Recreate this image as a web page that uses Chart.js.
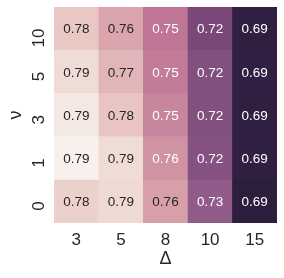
<!DOCTYPE html>
<html>
<head>
<meta charset="utf-8">
<script src="https://cdn.jsdelivr.net/npm/chart.js@4"></script>
<style>
  html, body { margin: 0; padding: 0; background: #ffffff; }
</style>
</head>
<body>
<canvas id="heat" width="284" height="278"></canvas>
<script>
// categories
const deltaLabels = ['3', '5', '8', '10', '15'];
const nuLabels = ['0', '1', '3', '5', '10']; // bottom to top

// one row of values per nu (columns follow deltaLabels)
const nu0 = [0.784, 0.787, 0.761, 0.727, 0.689];
const nu1 = [0.793, 0.788, 0.757, 0.722, 0.690];
const nu3 = [0.791, 0.780, 0.753, 0.721, 0.690];
const nu5 = [0.788, 0.772, 0.750, 0.721, 0.690];
const nu10 = [0.781, 0.763, 0.748, 0.718, 0.690];
const rows = [nu0, nu1, nu3, nu5, nu10];

const vmin = 0.689, vmax = 0.793;
const FONT = "'Liberation Sans', Arial, sans-serif";
const DARK = '#262626';

// cubehelix-like colormap, dark purple -> light pink
const stops = [
  [0.00, [45, 30, 62]],
  [0.14, [83, 47, 92]],
  [0.279, [122, 72, 120]],
  [0.346, [141, 90, 136]],
  [0.567, [190, 117, 150]],
  [0.702, [217, 163, 171]],
  [0.875, [232, 197, 194]],
  [0.952, [240, 220, 214]],
  [1.00, [247, 240, 236]]
];

function cellRGB(v) {
  let t = (v - vmin) / (vmax - vmin);
  t = Math.max(0, Math.min(1, t));
  for (let i = 1; i < stops.length; i++) {
    if (t <= stops[i][0]) {
      const a = stops[i - 1], b = stops[i];
      const f = (t - a[0]) / (b[0] - a[0]);
      return a[1].map((c, k) => Math.round(c + (b[1][k] - c) * f));
    }
  }
  return stops[stops.length - 1][1];
}

function cellColor(v) {
  const c = cellRGB(v);
  return 'rgb(' + c.join(',') + ')';
}

function luminance(rgb) {
  const lin = rgb.map(c => {
    c = c / 255;
    return c <= 0.03928 ? c / 12.92 : Math.pow((c + 0.055) / 1.055, 2.4);
  });
  return 0.2126 * lin[0] + 0.7152 * lin[1] + 0.0722 * lin[2];
}

// writes the value in each cell
const annotate = {
  id: 'annotate',
  afterDatasetsDraw(chart) {
    const ctx = chart.ctx;
    ctx.save();
    ctx.font = '13.5px ' + FONT;
    ctx.textAlign = 'center';
    ctx.textBaseline = 'middle';
    chart.data.datasets.forEach((ds, i) => {
      const meta = chart.getDatasetMeta(i);
      meta.data.forEach((bar, j) => {
        const v = ds.values[j];
        ctx.fillStyle = luminance(cellRGB(v)) < 0.408 ? '#ffffff' : DARK;
        ctx.fillText(v.toFixed(2), bar.x, (bar.y + bar.base) / 2 + 1);
      });
    });
    ctx.restore();
  }
};

new Chart(document.getElementById('heat'), {
  type: 'bar',
  data: {
    labels: deltaLabels,
    datasets: rows.map((vals, i) => ({
      label: 'ν = ' + nuLabels[i],
      data: vals.map(() => 1),
      values: vals,
      backgroundColor: vals.map(cellColor),
      borderColor: vals.map(cellColor),
      borderWidth: 0.6,
      borderSkipped: false,
      barPercentage: 1,
      categoryPercentage: 1
    }))
  },
  options: {
    responsive: false,
    animation: false,
    devicePixelRatio: 1,
    layout: { padding: { left: 0, top: 7, right: 7, bottom: 0 } },
    plugins: {
      legend: { display: false },
      tooltip: { enabled: false }
    },
    scales: {
      x: {
        type: 'category',
        stacked: true,
        grid: { display: false, drawTicks: false },
        border: { display: false },
        ticks: { color: DARK, font: { family: FONT, size: 17 }, padding: 7 },
        title: { display: true, text: 'Δ', color: DARK, font: { family: FONT, size: 18 }, padding: { top: 0, bottom: 8 } },
        afterFit(scale) {
          scale.height = 55;
          scale.paddingLeft = 0;
          scale.paddingRight = 0;
        }
      },
      y: {
        type: 'linear',
        stacked: true,
        min: 0,
        max: 5,
        grid: { display: false, drawTicks: false },
        border: { display: false },
        afterBuildTicks(scale) {
          scale.ticks = nuLabels.map((_, i) => ({ value: i + 0.5 }));
        },
        ticks: {
          color: DARK,
          font: { family: FONT, size: 17 },
          minRotation: 90,
          maxRotation: 90,
          padding: 15,
          callback: (v) => nuLabels[Math.floor(v)]
        },
        title: { display: true, text: 'ν', color: DARK, font: { family: FONT, size: 18 }, padding: { top: 5, bottom: 0 } },
        afterFit(scale) {
          scale.width = 54;
          scale.paddingTop = 0;
          scale.paddingBottom = 0;
        }
      }
    }
  },
  plugins: [annotate]
});
</script>
</body>
</html>
